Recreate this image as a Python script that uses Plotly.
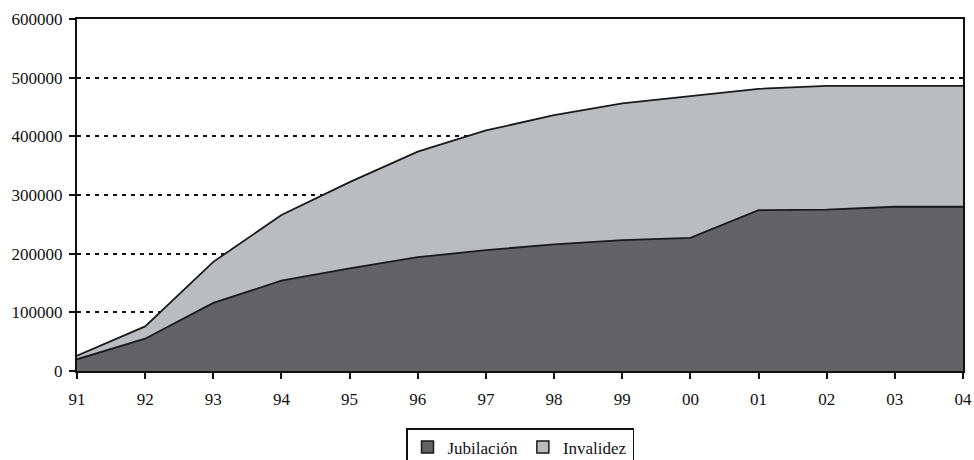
import plotly.graph_objects as go

years = ["91", "92", "93", "94", "95", "96", "97", "98", "99", "00", "01", "02", "03", "04"]
jubilacion = [20000, 55000, 116000, 154000, 175000, 194000, 206000, 216000, 223000, 227000, 274000, 275000, 280000, 280000]
invalidez = [6000, 21000, 70000, 112000, 147000, 180000, 204000, 220000, 233000, 242000, 207000, 211000, 206000, 206000]
y_ticks = [0, 100000, 200000, 300000, 400000, 500000, 600000]

dark = "#636365"
light = "#bbbcc0"
edge = "#1a1a1a"

fig = go.Figure()
fig.add_trace(go.Scatter(
    x=years, y=jubilacion, name="Jubilación", stackgroup="one", mode="lines",
    line=dict(color=edge, width=1.8), fillcolor=dark, showlegend=False))
fig.add_trace(go.Scatter(
    x=years, y=invalidez, name="Invalidez", stackgroup="one", mode="lines",
    line=dict(color=edge, width=1.8), fillcolor=light, showlegend=False))
# legend-only entries (square swatches like the original)
fig.add_trace(go.Bar(x=[None], y=[None], name="Jubilación",
                     marker=dict(color=dark, line=dict(color=edge, width=1.5))))
fig.add_trace(go.Bar(x=[None], y=[None], name="Invalidez",
                     marker=dict(color=light, line=dict(color=edge, width=1.5))))

font = dict(family="Liberation Serif, Times New Roman, serif", size=17, color="#111")
fig.update_layout(
    width=974, height=460,
    margin=dict(l=77, r=11, t=19, b=89),
    paper_bgcolor="white", plot_bgcolor="white",
    font=font,
    showlegend=True,
    legend=dict(orientation="h", x=0.5, xanchor="center", xref="paper",
                y=1 - 428 / 460, yanchor="top", yref="container",
                bordercolor="#111", borderwidth=1.5, font=font, traceorder="normal",
                itemwidth=30, tracegroupgap=0),
)
fig.update_xaxes(
    type="category", range=[0, 13], showgrid=False, zeroline=False,
    showline=True, linecolor="#111", linewidth=2, mirror=True,
    ticks="outside", ticklen=6, tickwidth=1.5, tickcolor="#111",
    ticklabelstandoff=6, automargin=False,
    tickfont=font)
fig.update_yaxes(
    range=[0, 600000], tickvals=y_ticks, ticktext=[str(v) for v in y_ticks],
    showgrid=True, gridcolor="#111", gridwidth=1.5, griddash="4px,5px",
    zeroline=False, showline=True, linecolor="#111", linewidth=2, mirror=True,
    ticks="outside", ticklen=6, tickwidth=1.5, tickcolor="#111",
    ticklabelstandoff=3, automargin=False,
    tickfont=font)

fig.write_html("out.html", config={"displayModeBar": False},
               post_script="document.body.style.margin='0';document.body.style.overflow='hidden';")
